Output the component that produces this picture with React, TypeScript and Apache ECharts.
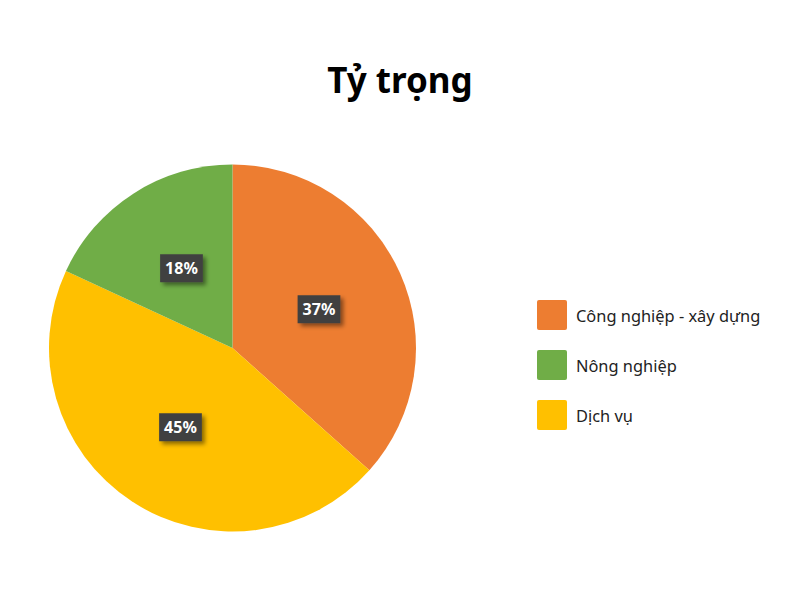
import * as echarts from "echarts";
import { useEffect, useRef } from "react";

const categories = ["Công nghiệp - xây dựng", "Dịch vụ", "Nông nghiệp"];
const values = [36.6, 45.3, 18.1];
const colors = ["#ED7D31", "#FFC000", "#70AD47"];
const legendOrder = ["Công nghiệp - xây dựng", "Nông nghiệp", "Dịch vụ"];

export default function App() {
  const chartRef = useRef<HTMLDivElement>(null);

  useEffect(() => {
    document.body.style.margin = "0";
    const chart = echarts.init(chartRef.current, null, { renderer: "svg" });
    chart.setOption({
      animation: false,
      backgroundColor: "#ffffff",
      textStyle: { fontFamily: "Noto Sans" },
      title: {
        text: "Tỷ trọng",
        left: "center",
        top: 57,
        textStyle: { fontSize: 35, fontWeight: "bold", color: "#000000", fontFamily: "Noto Sans" },
      },
      legend: {
        orient: "vertical",
        left: 537,
        top: 300,
        padding: 0,
        itemWidth: 30,
        itemHeight: 30,
        itemGap: 20,
        icon: "path://M2,0 L28,0 Q30,0 30,2 L30,28 Q30,30 28,30 L2,30 Q0,30 0,28 L0,2 Q0,0 2,0 Z",
        data: legendOrder,
        textStyle: { fontSize: 16.4, color: "#222222", padding: [0, 0, 0, 4] },
      },
      series: [
        {
          type: "pie",
          center: [232.5, 348],
          radius: 183.5,
          startAngle: 90,
          clockwise: true,
          color: colors,
          data: categories.map((name, i) => ({ name, value: values[i] })),
          label: {
            show: true,
            position: "inside",
            formatter: (p: any) => Math.round(p.percent) + "%",
            color: "#ffffff",
            fontWeight: "bold",
            fontSize: 16,
            backgroundColor: "#404040",
            padding: [7, 5, 5, 5],
            shadowColor: "rgba(0,0,0,0.45)",
            shadowBlur: 4,
            shadowOffsetX: 3,
            shadowOffsetY: 3,
          },
          labelLine: { show: false },
          itemStyle: { borderWidth: 0 },
          emphasis: { disabled: true },
        },
      ],
    });
    return () => chart.dispose();
  }, []);

  return <div ref={chartRef} style={{ width: 800, height: 600 }}></div>;
}
